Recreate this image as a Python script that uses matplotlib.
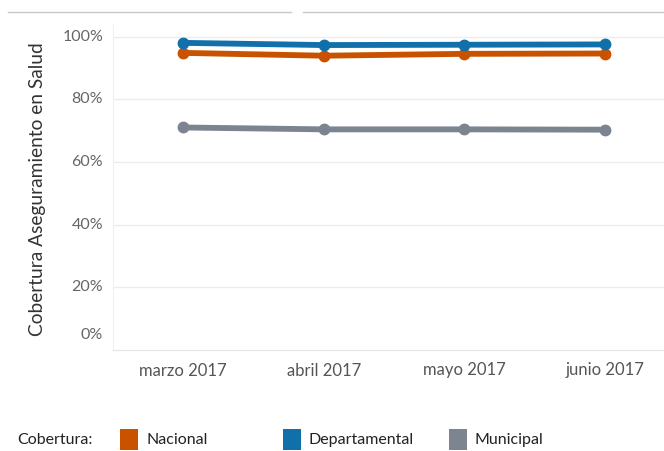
import matplotlib
matplotlib.use("Agg")
import matplotlib.pyplot as plt
from matplotlib.patches import Rectangle
from matplotlib.lines import Line2D
import matplotlib.transforms as mtransforms

plt.rcParams['font.family'] = ['Lato', 'DejaVu Sans']

meses = ["marzo 2017", "abril 2017", "mayo 2017", "junio 2017"]
nacional = [94.8, 93.9, 94.5, 94.6]
departamental = [98.0, 97.3, 97.4, 97.5]
municipal = [71.0, 70.4, 70.4, 70.3]
yticks = [0, 20, 40, 60, 80, 100]

series = [
    ("Municipal", municipal, "#7B848F"),
    ("Nacional", nacional, "#C85200"),
    ("Departamental", departamental, "#1170AA"),
]
legend_order = [("Nacional", "#C85200"), ("Departamental", "#1170AA"), ("Municipal", "#7B848F")]

fig = plt.figure(figsize=(6.64, 4.51), dpi=100)
ax = fig.add_axes([113 / 664, 1 - 350 / 451, 551 / 664, 325 / 451])

x = list(range(len(meses)))
for name, vals, col in series:
    ax.plot(x, vals, color=col, lw=4.2, marker="o", ms=7.5, solid_capstyle="round")

ax.set_xlim(-0.5, 3.42)
ax.set_ylim(0, 103.7)

for v in yticks[1:]:
    ax.axhline(v, color="#ececec", lw=1, zorder=0)

for s in ["top", "right"]:
    ax.spines[s].set_visible(False)
ax.spines["left"].set_color("#f0f0f0")
ax.spines["bottom"].set_color("#e4e4e4")

ax.set_xticks(x)
ax.set_xticklabels(meses, fontsize=12, color="#555555")
ax.tick_params(axis="x", length=0, pad=9)

# y tick labels drawn as text (first one nudged up to stay inside the pane)
ax.set_yticks([])
trans = mtransforms.blended_transform_factory(ax.transAxes, ax.transData)
for v in yticks:
    off = mtransforms.ScaledTranslation(0, 15 / 100 if v == 0 else 0, fig.dpi_scale_trans)
    ax.text(-0.018, v, f"{v}%", transform=trans + off, ha="right", va="center",
            fontsize=11.5, color="#666666")

fig.text(38 / 664, 1 - 189 / 451, "Cobertura Aseguramiento en Salud", rotation=90,
         ha="center", va="center", fontsize=13.8, color="#333333")

# decorative top lines
fig.add_artist(Line2D([8 / 664, 291 / 664], [1 - 12 / 451] * 2, color="#c8c8c8", lw=1))
fig.add_artist(Line2D([303 / 664, 1.0], [1 - 12 / 451] * 2, color="#c8c8c8", lw=1))

# legend
ly = 1 - 440 / 451
fig.text(17 / 664, ly, "Cobertura:", ha="left", va="center", fontsize=11.5, color="#222222")
lx = [120, 283, 449]
for (name, col), px in zip(legend_order, lx):
    fig.add_artist(Rectangle((px / 664, ly - 10 / 451), 18 / 664, 21 / 451,
                             transform=fig.transFigure, facecolor=col, edgecolor="none"))
    fig.text((px + 26) / 664, ly, name, ha="left", va="center", fontsize=11.5, color="#222222")

fig.savefig("out.png", dpi=100)
